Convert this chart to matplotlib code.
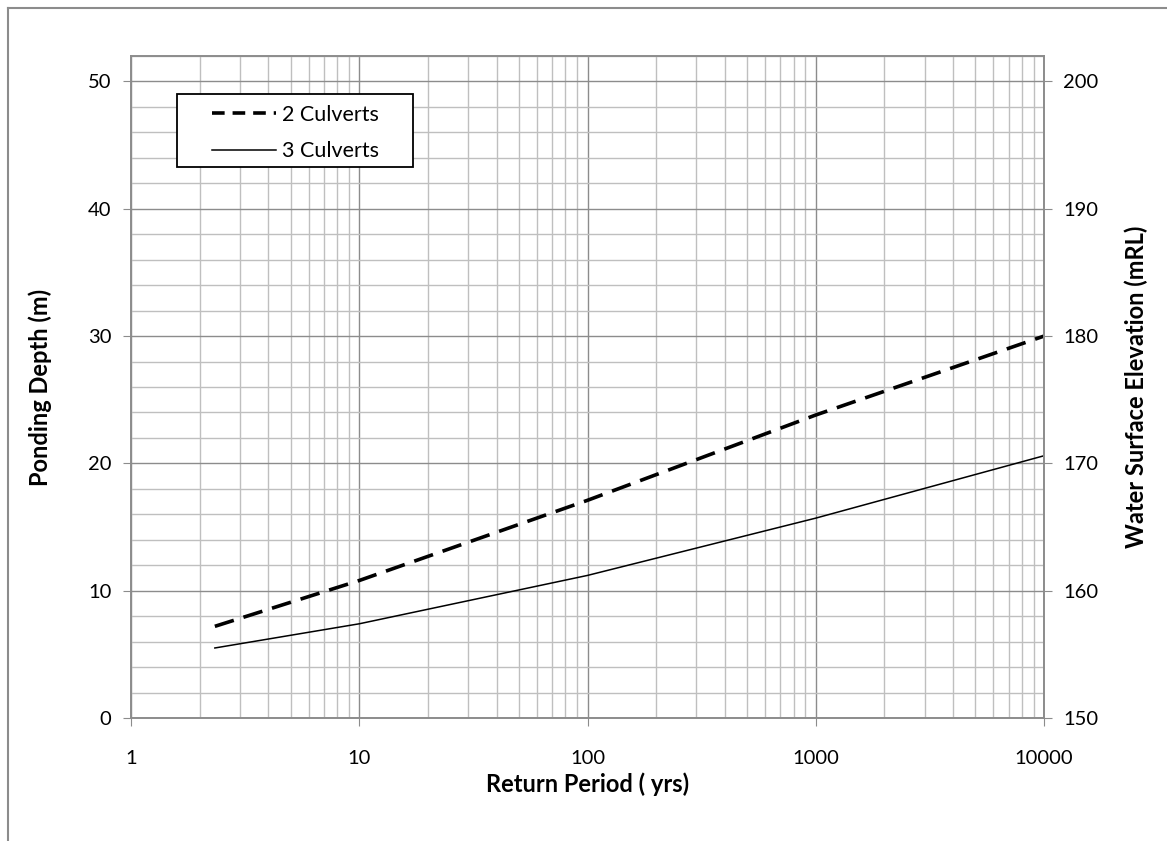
import matplotlib
matplotlib.use('Agg')
import matplotlib.pyplot as plt
from matplotlib.lines import Line2D
from matplotlib.patches import Rectangle
from matplotlib.ticker import FixedLocator, NullFormatter
import numpy as np

plt.rcParams['font.family'] = ['Lato', 'DejaVu Sans']

# return period (yrs)
period = [2.33, 10, 100, 1000, 10000]
# ponding depth (m)
depth_2 = [7.2, 10.8, 17.1, 23.8, 30.0]
depth_3 = [5.5, 7.4, 11.2, 15.7, 20.6]
labels = ['2 Culverts', '3 Culverts']

W, H = 1167, 841
fig = plt.figure(figsize=(W / 100, H / 100), dpi=100)

# plot area in pixels
L, R, T, B = 131, 1044, 56, 718
ax = fig.add_axes([L / W, 1 - B / H, (R - L) / W, (B - T) / H])

grid_major = '#8c8c8c'
grid_minor = '#bfbfbf'
dash = (0, (5.5, 2.8))

ax.plot(period, depth_2, color='black', lw=2.6, ls=dash, label=labels[0])
ax.plot(period, depth_3, color='black', lw=1.1, label=labels[1])

ax.set_xscale('log')
ax.set_xlim(1, 10000)
ax.set_ylim(0, 52)
ax.set_xticks([1, 10, 100, 1000, 10000])
ax.set_xticklabels(['1', '10', '100', '1000', '10000'])
ax.xaxis.set_minor_locator(FixedLocator([m * 10 ** d for d in range(4) for m in range(2, 10)]))
ax.xaxis.set_minor_formatter(NullFormatter())
ax.set_yticks(np.arange(0, 51, 10))
ax.yaxis.set_minor_locator(FixedLocator(np.arange(0, 53, 2)))

ax.grid(True, which='major', color=grid_major, lw=1.0)
ax.grid(True, which='minor', color=grid_minor, lw=1.0)
ax.set_axisbelow(True)

for s in ax.spines.values():
    s.set_color(grid_major)
    s.set_linewidth(1.2)
ax.tick_params(which='major', direction='out', length=6, color=grid_major, labelsize=14.5, pad=8)
ax.tick_params(which='minor', length=0)
ax.tick_params(axis='x', pad=17)

ax2 = ax.twinx()
ax2.set_ylim(150, 202)
ax2.set_yticks(np.arange(150, 201, 10))
for s in ax2.spines.values():
    s.set_color(grid_major)
    s.set_linewidth(1.2)
ax2.tick_params(which='major', direction='out', length=6, color=grid_major, labelsize=14.5, pad=8)

fig.text(40 / W, 1 - 387 / H, 'Ponding Depth (m)', rotation=90, fontsize=17,
         fontweight='bold', ha='center', va='center')
fig.text(1136 / W, 1 - 387 / H, 'Water Surface Elevation (mRL)', rotation=90, fontsize=17,
         fontweight='bold', ha='center', va='center')
fig.text((L + R) / 2 / W, 1 - 784 / H, 'Return Period ( yrs)', fontsize=17,
         fontweight='bold', ha='center', va='center')

# legend box drawn by hand (Excel style: wide side padding)
box = Rectangle((177 / W, 1 - 167 / H), (413 - 177) / W, (167 - 94) / H,
                transform=fig.transFigure, facecolor='white', edgecolor='black', lw=1.3, zorder=5)
fig.add_artist(box)
handles = [Line2D([0], [0], color='black', lw=2.6, ls=(0, (3.5, 2.2))),
           Line2D([0], [0], color='black', lw=1.1)]
leg = fig.legend(handles, labels, loc='upper left',
                 bbox_to_anchor=(212 / W, 1 - 105 / H),
                 frameon=False, fontsize=15.5,
                 handlelength=2.95, handletextpad=0.3, borderpad=0, labelspacing=0.75,
                 borderaxespad=0)
leg.set_zorder(6)

# outer chart border (left and top only visible)
fig.add_artist(Line2D([8 / W, 8 / W], [0, 1 - 8 / H], color='#8c8c8c', lw=1.5, transform=fig.transFigure))
fig.add_artist(Line2D([8 / W, 1], [1 - 8 / H, 1 - 8 / H], color='#8c8c8c', lw=1.5, transform=fig.transFigure))

fig.savefig('out.png', dpi=100)
